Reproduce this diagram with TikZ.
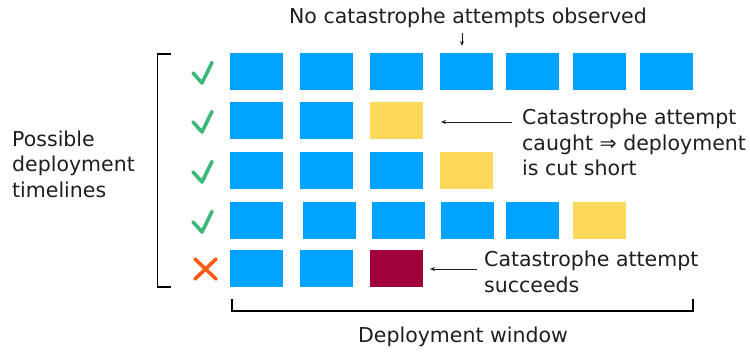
\documentclass[tikz,border=0pt]{standalone}
\usepackage{fontspec}
\setmainfont{DejaVu Sans}
\usetikzlibrary{arrows.meta}
\definecolor{cblue}{RGB}{0,163,255}
\definecolor{cyel}{RGB}{255,217,90}
\definecolor{cred}{RGB}{160,0,60}
\definecolor{cgreen}{RGB}{60,184,120}
\definecolor{corange}{RGB}{255,90,20}
\definecolor{ctext}{RGB}{30,30,30}
\tikzset{
  cell/.style={minimum width=53pt,minimum height=37pt,inner sep=0pt,outer sep=0pt},
  bcell/.style={cell,fill=cblue},
  ycell/.style={cell,fill=cyel},
  rcell/.style={cell,fill=cred},
  lbl/.style={font=\fontsize{20.5}{25.5}\selectfont,text=ctext,inner sep=0pt},
  ptr/.style={draw=ctext,line width=0.9pt,-{Stealth[length=5pt,width=4pt]}},
  brk/.style={draw=black,line width=1.6pt},
  chk/.style={draw=cgreen,line width=3.6pt,line cap=round,line join=round},
  crs/.style={draw=corange,line width=3.6pt,line cap=round}
}
\begin{document}
\begin{tikzpicture}[x=1pt,y=-1pt]
\useasboundingbox (0,0) rectangle (750,354);
% row 1
\node[bcell] (a1) at (256.5,71.5) {};
\node[bcell] (a2) at (326.5,71.5) {};
\node[bcell] (a3) at (396.5,71.5) {};
\node[bcell] (a4) at (466,71.5) {};
\node[bcell] (a5) at (532.5,71.5) {};
\node[bcell] (a6) at (599.5,71.5) {};
\node[bcell] (a7) at (666,71.5) {};
% row 2
\node[bcell] (b1) at (256.5,120.5) {};
\node[bcell] (b2) at (326.5,120.5) {};
\node[ycell] (b3) at (396.5,120.5) {};
% row 3
\node[bcell] (c1) at (256.5,170.5) {};
\node[bcell] (c2) at (326.5,170.5) {};
\node[bcell] (c3) at (396.5,170.5) {};
\node[ycell] (c4) at (466,170.5) {};
% row 4
\node[bcell] (d1) at (256.5,220.5) {};
\node[bcell] (d2) at (329.5,220.5) {};
\node[bcell] (d3) at (398.5,220.5) {};
\node[bcell] (d4) at (467.5,220.5) {};
\node[bcell] (d5) at (532.5,220.5) {};
\node[ycell] (d6) at (599.5,220.5) {};
% row 5
\node[bcell] (e1) at (256.5,268.5) {};
\node[bcell] (e2) at (326.5,268.5) {};
\node[rcell] (e3) at (396.5,268.5) {};
% checks
\foreach \y in {71.5,120.5,170.5,220.5}{
  \draw[chk] (193,\y+1.5) -- (202,\y+11.5) -- (212,\y-9);
}
\draw[crs] (195,259) -- (216,279) (216,259) -- (195,279);
% left bracket
\draw[brk] (171,54) -- (157.5,54) -- (157.5,287) -- (171,287);
% bottom bracket
\draw[brk] (232,299) -- (232,311) -- (693,311) -- (693,299);
% texts
\node[lbl] (top) at (468,18) {No catastrophe attempts observed};
\coordinate (topa) at (462,33);
\draw[ptr] (topa) -- (462,46);
\node[lbl,align=left,anchor=west] (poss) at (12,164) {Possible\\deployment\\timelines};
\node[lbl,align=left,anchor=north west] (caught) at (522,109) {Catastrophe attempt\\caught ⇒ deployment\\is cut short};
\coordinate (ca) at (512,122);
\draw[ptr] (ca) -- (441,122);
\node[lbl,align=left,anchor=north west] (succ) at (484,251) {Catastrophe attempt\\succeeds};
\coordinate (sa) at (477,269);
\draw[ptr] (sa) -- (430,269);
\node[lbl] (win) at (463,337) {Deployment window};
\end{tikzpicture}
\end{document}
